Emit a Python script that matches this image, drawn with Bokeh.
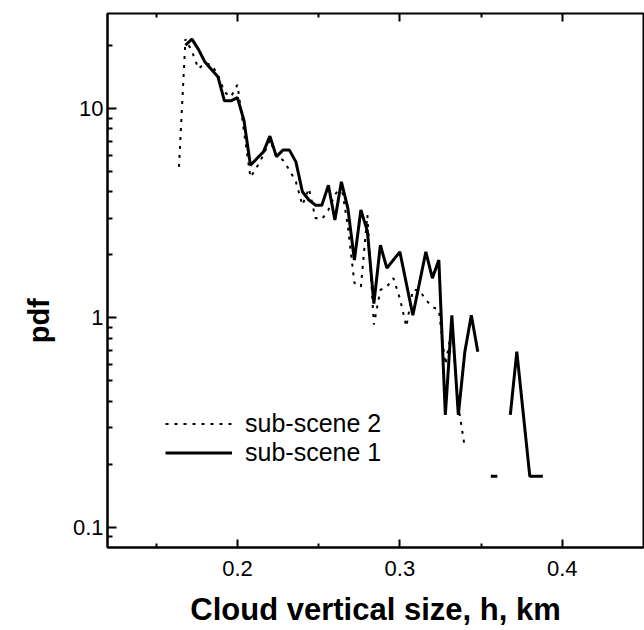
import numpy as np
from bokeh.plotting import figure
from bokeh.models import (FixedTicker, CustomJSTickFormatter, LinearAxis, Legend,
                          LegendItem, CustomLabelingPolicy)
from bokeh.embed import file_html
from bokeh.resources import INLINE

nan = float("nan")

# sub-scene 1 (solid)
h1 = [0.168, 0.172, 0.176, 0.180, 0.184, 0.188, 0.192, 0.196, 0.200, 0.204,
      0.208, 0.212, 0.216, 0.220, 0.224, 0.228, 0.232, 0.236, 0.240, 0.244,
      0.248, 0.252, 0.256, 0.260, 0.264, 0.268, 0.272, 0.276, 0.280, 0.284,
      0.288, 0.292, 0.300, 0.308, 0.316, 0.320, 0.324, 0.328, 0.332, 0.336,
      0.340, 0.344, 0.348, nan, 0.356, 0.360, nan, 0.368, 0.372, 0.380,
      0.384, 0.388]
pdf1 = [20.1, 21.5, 19.2, 16.7, 15.4, 14.2, 10.9, 10.9, 11.3, 8.8,
        5.37, 5.78, 6.22, 7.39, 5.9, 6.34, 6.34, 5.57, 4.01, 3.66,
        3.46, 3.46, 4.31, 2.94, 4.47, 3.34, 1.89, 3.28, 2.6, 1.17,
        2.23, 1.73, 2.07, 1.03, 2.07, 1.55, 1.89, 0.344, 1.03, 0.344,
        0.69, 1.03, 0.69, nan, 0.175, 0.175, nan, 0.344, 0.69, 0.175,
        0.175, 0.175]

# sub-scene 2 (dotted)
h2 = [0.164, 0.168, 0.172, 0.176, 0.180, 0.184, 0.188, 0.192, 0.196, 0.200,
      0.208, 0.212, 0.216, 0.220, 0.224, 0.228, 0.232, 0.236, 0.240, 0.244,
      0.248, 0.252, 0.256, 0.260, 0.264, 0.268, 0.272, 0.276, 0.280, 0.284,
      0.288, 0.292, 0.296, 0.300, 0.304, 0.308, 0.312, 0.316, 0.320, 0.324,
      0.328, 0.332, 0.336, 0.340]
pdf2 = [5.27, 21.5, 18.8, 15.5, 16.5, 16.2, 14.5, 12.0, 11.4, 13.0,
        4.7, 5.27, 6.0, 7.1, 5.9, 5.68, 5.09, 4.47, 3.46, 4.16,
        3.0, 2.96, 3.28, 3.87, 4.31, 2.73, 1.47, 1.41, 3.1, 0.93,
        1.36, 1.41, 1.55, 1.24, 0.91, 1.36, 1.36, 1.22, 1.13, 1.09,
        0.6, 0.88, 0.38, 0.24]

x_major = [0.2, 0.3, 0.4]
x_minor = [0.15, 0.25, 0.35]
y_major = [0.1, 1, 10]
y_minor = [0.09, 0.2, 0.3, 0.4, 0.5, 0.6, 0.7, 0.8, 0.9,
           2, 3, 4, 5, 6, 7, 8, 9, 20]

FONT = "Liberation Sans"

p = figure(width=644, height=630, x_range=(0.12, 0.45), y_range=(0.08, 28.5),
           y_axis_type="log", output_backend="svg", toolbar_location=None,
           min_border_left=107, min_border_right=1, min_border_top=13,
           min_border_bottom=83)
p.xgrid.visible = False
p.ygrid.visible = False
p.outline_line_color = "black"
p.outline_line_width = 2
p.background_fill_color = "white"
p.border_fill_color = "white"

r1 = p.line(np.array(h1), np.array(pdf1), line_color="black", line_width=3)
r2 = p.line(np.array(h2), np.array(pdf2), line_color="black", line_width=2,
            line_dash="3 6")

def style_axis(ax, font_size="22px", major_len=8, minor_len=4):
    ax.major_tick_in = major_len
    ax.major_tick_out = 0
    ax.minor_tick_in = minor_len
    ax.minor_tick_out = 0
    ax.major_tick_line_width = 2
    ax.minor_tick_line_width = 2
    ax.major_tick_line_color = "black"
    ax.minor_tick_line_color = "black"
    ax.axis_line_width = 2
    ax.axis_line_color = "black"
    ax.major_label_text_font = FONT
    ax.major_label_text_font_size = font_size
    ax.major_label_text_color = "black"

xa = p.xaxis[0]
xa.ticker = FixedTicker(ticks=x_major, minor_ticks=x_minor)
style_axis(xa)
xa.major_label_standoff = 13
xa.axis_label = "Cloud vertical size, h, km"
xa.axis_label_text_font = FONT
xa.axis_label_text_font_style = "bold"
xa.axis_label_text_font_size = "31px"
xa.axis_label_text_color = "black"
xa.axis_label_standoff = 13

ya = p.yaxis[0]
ya.ticker = FixedTicker(ticks=y_major, minor_ticks=y_minor)
ya.formatter = CustomJSTickFormatter(code="return tick < 1 ? tick.toFixed(1) : tick.toFixed(0);")
style_axis(ya, major_len=9, minor_len=5)
ya.major_label_standoff = 4
# trailing no-break spaces move the centred "pdf" down to the level of "1"
ya.axis_label = "pdf" + "\u00a0" * 10
ya.axis_label_text_font = FONT
ya.axis_label_text_font_style = "bold"
ya.axis_label_text_font_size = "29px"
ya.axis_label_text_color = "black"
ya.axis_label_standoff = 15

top = LinearAxis(ticker=FixedTicker(ticks=x_major, minor_ticks=x_minor))
style_axis(top, font_size="10px")
top.major_label_policy = CustomLabelingPolicy(code="return new Set()")
top.major_label_standoff = 0
top.axis_line_color = None
p.add_layout(top, "above")

legend = Legend(items=[LegendItem(label="sub-scene 2", renderers=[r2]),
                       LegendItem(label="sub-scene 1", renderers=[r1])],
                location=(58, 80), border_line_color=None,
                background_fill_alpha=0, glyph_width=67, glyph_height=25,
                label_height=25, label_standoff=13, spacing=0, padding=0,
                margin=0, label_text_font=FONT, label_text_font_size="25px",
                label_text_color="black")
p.add_layout(legend)

open("out.html", "w").write(file_html(p, INLINE))
